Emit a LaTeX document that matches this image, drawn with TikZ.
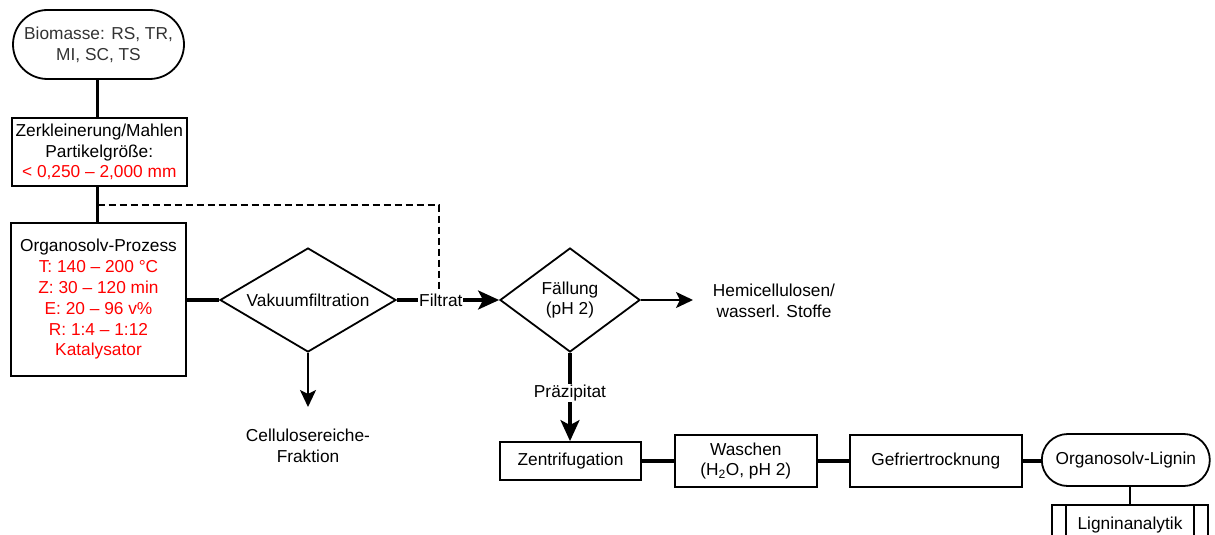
\documentclass[tikz,border=0pt]{standalone}
\usepackage{fontspec}
\setmainfont{Liberation Sans}
\usetikzlibrary{shapes.geometric,arrows.meta}
\definecolor{redtxt}{HTML}{FF0000}
\definecolor{graytxt}{HTML}{333333}
\tikzset{
  every node/.style={font=\fontsize{17.3}{20.8}\selectfont, text=black},
  boxnode/.style={draw, line width=1.8pt, rectangle, inner sep=0pt, align=center},
  termnode/.style={draw, line width=1.8pt, rectangle, inner sep=0pt, align=center},
  decnode/.style={draw, line width=1.8pt, diamond, inner sep=0pt, align=center},
  plain/.style={inner sep=0pt, align=center},
  lbl/.style={fill=white, inner sep=1pt},
  thickline/.style={line width=3.2pt},
  thinline/.style={line width=2pt},
  bigarrow/.style={-{Stealth[length=21pt,width=19pt,inset=5pt]}},
  smallarrow/.style={-{Stealth[length=17pt,width=16pt,inset=4pt]}},
}
\begin{document}
\begin{tikzpicture}[x=1pt,y=-1pt]
\useasboundingbox (0,0) rectangle (1215,535);
\clip (0,0) rectangle (1215,535);

% nodes
\node[termnode, rounded corners=34.5pt, minimum width=171pt, minimum height=69pt, text=graytxt] (bio) at (98.5,44.5) {Biomasse: RS, TR,\\MI, SC, TS};
\node[boxnode, minimum width=175pt, minimum height=68pt] (zer) at (99.3,152) {Zerkleinerung/Mahlen\\Partikelgröße:\\\textcolor{redtxt}{< 0,250 -- 2,000 mm}};
\node[boxnode, minimum width=175pt, minimum height=153pt] (org) at (98.5,299.5) {Organosolv-Prozess\\\textcolor{redtxt}{T: 140 -- 200 °C}\\\textcolor{redtxt}{Z: 30 -- 120 min}\\\textcolor{redtxt}{E: 20 -- 96 v\%}\\\textcolor{redtxt}{R: 1:4 -- 1:12}\\\textcolor{redtxt}{Katalysator}};
\node[decnode, minimum width=176pt, minimum height=104pt, aspect=1.69] (vak) at (308,300) {Vakuumfiltration};
\node[decnode, minimum width=140pt, minimum height=104pt, aspect=1.35] (fal) at (570,300) {Fällung\\(pH 2)};
\node[plain] (hemi) at (774,301) {Hemicellulosen/\\wasserl. Stoffe};
\node[plain] (cell) at (308,446) {Cellulosereiche-\\Fraktion};
\node[boxnode, minimum width=141pt, minimum height=38pt] (zen) at (570.5,461) {Zentrifugation};
\node[boxnode, minimum width=142pt, minimum height=52pt] (wasch) at (745.8,461) {Waschen\\(H\textsubscript{2}O, pH 2)};
\node[boxnode, minimum width=172pt, minimum height=52pt] (gef) at (935.8,461) {Gefriertrocknung};
\node[termnode, rounded corners=26pt, minimum width=168pt, minimum height=52pt] (lig) at (1125.8,460) {Organosolv-Lignin};
\node[boxnode, minimum width=156pt, minimum height=40pt] (ana) at (1130,525) {Ligninanalytik};
\draw[line width=1.8pt] ([xshift=15pt]ana.north west) -- ([xshift=15pt]ana.south west);
\draw[line width=1.8pt] ([xshift=-15pt]ana.north east) -- ([xshift=-15pt]ana.south east);

% coordinates
\coordinate (d0) at (97.7,205);
\coordinate (d1) at (439,205);
\coordinate (d2) at (439,289);
\coordinate (hend) at (693,300);
\coordinate (cend) at (308,407);

% connectors
\draw[thickline] (bio.south -| 97.7,0) -- (zer.north -| 97.7,0);
\draw[thickline] (zer.south -| 97.7,0) -- (org.north -| 97.7,0);
\draw[thinline, dash pattern=on 7pt off 4pt] (d0) -- (d1) -- (d2);
\draw[thickline] (vak.west -| org.east) -- (vak.west);
\draw[thickline, bigarrow] (vak.east) -- node[lbl, pos=0.43] (filt) {Filtrat} (fal.west);
\draw[thinline, smallarrow] (fal.east) -- (hend);
\draw[thinline, smallarrow] (vak.south) -- (cend);
\draw[thickline, bigarrow] (fal.south) -- node[lbl, pos=0.45] (praez) {Präzipitat} (zen.north -| fal.south);
\draw[thickline] (zen.east) -- (zen.east -| wasch.west);
\draw[thickline] (wasch.east) -- (wasch.east -| gef.west);
\draw[thickline] (gef.east) -- (gef.east -| lig.west);
\draw[thinline] (lig.south -| ana.north) -- (ana.north);
\end{tikzpicture}
\end{document}
